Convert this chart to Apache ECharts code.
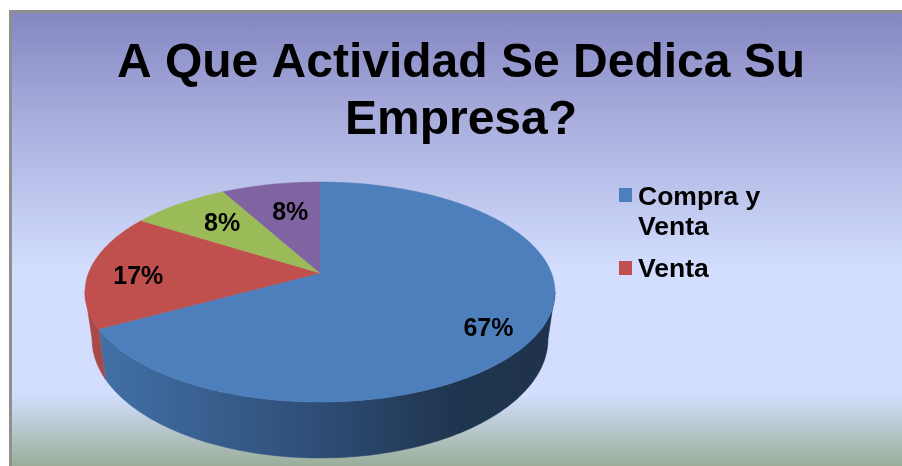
<!DOCTYPE html>
<html>
<head>
<meta charset="utf-8">
<title>A Que Actividad Se Dedica Su Empresa?</title>
<script src="https://cdn.jsdelivr.net/npm/echarts@6/dist/echarts.min.js"></script>
<style>
  html, body { margin: 0; padding: 0; width: 100%; height: 100%; background: #fff; overflow: hidden; }
  .chart-bg {
    position: absolute; left: 9px; top: 10px; right: 0; bottom: 0;
    border-left: 3px solid #8f8f8f; border-top: 3px solid #8f8f8f;
    background: linear-gradient(180deg, #8487c2 0%, #a9aedd 24%, #d3defe 57%, #d3defe 84%, #b4c4c6 93%, #9bae9a 100%);
  }
  #chart { position: absolute; left: 0; top: 0; width: 902px; height: 466px; }
</style>
</head>
<body>
<div class="chart-bg"></div>
<div id="chart"></div>
<script>
// only the first two names show in the legend of the original
const categories = ['Compra y Venta', 'Venta', '', '']
const values = [67, 17, 8, 8]
const colors = ['#4d7fbc', '#c0504d', '#9bbb59', '#8064a2']
const titleText = 'A Que Actividad Se Dedica Su\nEmpresa?'

const FONT = '"Liberation Sans", Arial, sans-serif'
const total = values.reduce((a, b) => a + b, 0)

// top face ellipse, lower rim ellipse, perspective shift of the apex
const topRim = { cx: 320, cy: 292, rx: 235, ry: 110 }
const lowRim = { cx: 320, cy: 339, rx: 228, ry: 119 }
const TILT = -0.173
const labelRadius = [0.8, 0.78, 0.7, 0.65]
const labelShift = [[-3, 9], [-2, 7], [4, 1], [4, 1]]

const project = (rim, angle, r) => {
  const u = Math.sin(angle) * r
  const v = -Math.cos(angle) * r
  const d = 1 + TILT * v
  return [
    rim.cx + rim.rx * u * Math.sqrt(1 - TILT * TILT) / d,
    rim.cy + rim.ry * (v + TILT) / d
  ]
}

const arc = (rim, from, to) => {
  const pts = []
  const n = Math.max(2, Math.ceil(Math.abs(to - from) / 0.02))
  for (let i = 0; i <= n; i++) {
    pts.push(project(rim, from + (to - from) * i / n, 1))
  }
  return pts
}

const blueSide = new echarts.graphic.LinearGradient(100, 0, 550, 0, [
  { offset: 0, color: '#4270a6' },
  { offset: 0.45, color: '#30507a' },
  { offset: 0.8, color: '#1f344e' },
  { offset: 1, color: '#1f334d' }
], true)
const sideFill = [blueSide, '#a84a47', '#8ba650', '#705890']

// wall runs between the widest points of the two rims
const SIDE_FROM = 100 * Math.PI / 180
const SIDE_TO = 260 * Math.PI / 180

const renderSlice = (index) => (params, api) => {
  const start = api.value(0) / total * Math.PI * 2
  const size = api.value(1)
  const end = start + size / total * Math.PI * 2
  const children = []

  const sFrom = Math.max(start, SIDE_FROM)
  const sTo = Math.min(end, SIDE_TO)
  if (sTo > sFrom) {
    children.push({
      type: 'polygon',
      z2: 1,
      shape: { points: arc(topRim, sFrom, sTo).concat(arc(lowRim, sFrom, sTo).reverse()) },
      style: { fill: sideFill[index], stroke: sideFill[index], lineWidth: 0.5 }
    })
  }

  const apex = project(topRim, 0, 0)
  children.push({
    type: 'polygon',
    z2: 2,
    shape: { points: [apex].concat(arc(topRim, start, end)) },
    style: { fill: colors[index], stroke: colors[index], lineWidth: 0.5 }
  })

  const pos = project(topRim, (start + end) / 2, labelRadius[index])
  children.push({
    type: 'text',
    z2: 3,
    style: {
      text: size + '%',
      x: pos[0] + labelShift[index][0],
      y: pos[1] + labelShift[index][1],
      fill: '#000',
      font: 'bold 25px ' + FONT,
      align: 'center',
      verticalAlign: 'middle'
    }
  })
  return { type: 'group', children }
}

let sum = 0
const series = values.map((v, i) => {
  const item = {
    type: 'custom',
    name: categories[i],
    coordinateSystem: 'none',
    silent: true,
    animation: false,
    itemStyle: { color: colors[i] },
    renderItem: renderSlice(i),
    data: [[sum, v]]
  }
  sum += v
  return item
})

const legendText = {
  color: '#000',
  fontFamily: FONT,
  fontWeight: 'bold',
  fontSize: 26.5,
  lineHeight: 30,
  padding: [0, 0, 0, 1]
}

const chart = echarts.init(document.getElementById('chart'), null, { renderer: 'canvas' })
chart.setOption({
  animation: false,
  title: {
    text: titleText,
    left: 456,
    top: 30,
    textAlign: 'center',
    textStyle: { color: '#000', fontFamily: FONT, fontWeight: 'bold', fontSize: 48, lineHeight: 57 }
  },
  legend: [{
    // square sits on the first line, so the icon box spans both lines
    left: 619,
    top: 183,
    padding: 0,
    orient: 'vertical',
    selectedMode: false,
    itemWidth: 13,
    itemHeight: 50,
    icon: 'path://M0 0H13V14H0Z M0 50H0.01V49.99Z',
    data: [categories[0]],
    formatter: (name) => name.replace(' y ', ' y\n'),
    textStyle: legendText
  }, {
    left: 619,
    top: 255,
    padding: 0,
    orient: 'vertical',
    selectedMode: false,
    itemWidth: 13,
    itemHeight: 18,
    icon: 'path://M0 0H13V14H0Z M0 18H0.01V17.99Z',
    data: [categories[1]],
    textStyle: legendText
  }],
  series: series
})
</script>
</body>
</html>
